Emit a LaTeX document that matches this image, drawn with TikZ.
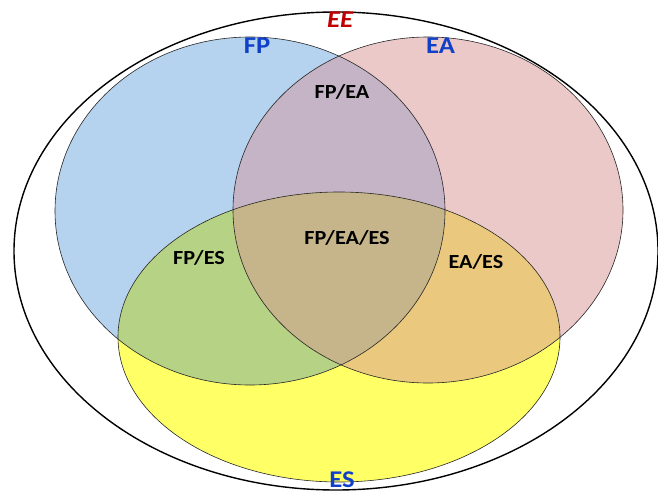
\documentclass[tikz,border=0pt]{standalone}
\usepackage{fontspec}
\setmainfont{Carlito}
\newfontfamily\widefont[FakeStretch=1.11]{Carlito}
\definecolor{cFP}{RGB}{181,210,238}
\definecolor{cEA}{RGB}{235,201,201}
\definecolor{cES}{RGB}{255,255,102}
\definecolor{cFPEA}{RGB}{197,180,198}
\definecolor{cFPES}{RGB}{182,210,133}
\definecolor{cEAES}{RGB}{234,201,127}
\definecolor{cALL}{RGB}{198,180,139}
\definecolor{lblue}{RGB}{16,64,200}
\definecolor{lred}{RGB}{192,0,0}
\tikzset{
  setlabel/.style={font=\widefont\fontsize{24}{24}\selectfont\bfseries, text=lblue, inner sep=0pt},
  eelabel/.style={font=\widefont\fontsize{24}{24}\selectfont\bfseries\itshape, text=lred, inner sep=0pt},
  zonelabel/.style={font=\widefont\fontsize{20}{20}\selectfont\bfseries, text=black, inner sep=0pt},
  rim/.style={draw=black!85, line width=0.6pt}
}
\begin{document}
\begin{tikzpicture}[x=1pt,y=-1pt]
\useasboundingbox (0,0) rectangle (658,492);
\def\FP{(250,211) ellipse [x radius=195, y radius=174]}
\def\EA{(428,210) ellipse [x radius=195, y radius=173]}
\def\ES{(339,337) ellipse [x radius=221, y radius=145]}
% outer universe
\draw[line width=1.4pt] (336,251) ellipse [x radius=322, y radius=239];
% base fills
\fill[cFP] \FP;
\fill[cEA] \EA;
\fill[cES] \ES;
% pairwise
\begin{scope}\clip \FP; \fill[cFPEA] \EA; \end{scope}
\begin{scope}\clip \FP; \fill[cFPES] \ES; \end{scope}
\begin{scope}\clip \EA; \fill[cEAES] \ES; \end{scope}
\begin{scope}\clip \FP; \clip \EA; \fill[cALL] \ES; \end{scope}
% outlines
\draw[rim] \FP;
\draw[rim] \EA;
\draw[rim] \ES;
% labels
\node[eelabel] (ee) at (340,19.5) {EE};
\node[setlabel] (fp) at (257,46) {FP};
\node[setlabel] (ea) at (440.5,46) {EA};
\node[setlabel] (es) at (342,480) {ES};
\node[zonelabel] (fpea) at (342,92) {FP/EA};
\node[zonelabel] (fpeaes) at (347,238) {FP/EA/ES};
\node[zonelabel] (fpes) at (199,258) {FP/ES};
\node[zonelabel] (eaes) at (476,262) {EA/ES};
\end{tikzpicture}
\end{document}
